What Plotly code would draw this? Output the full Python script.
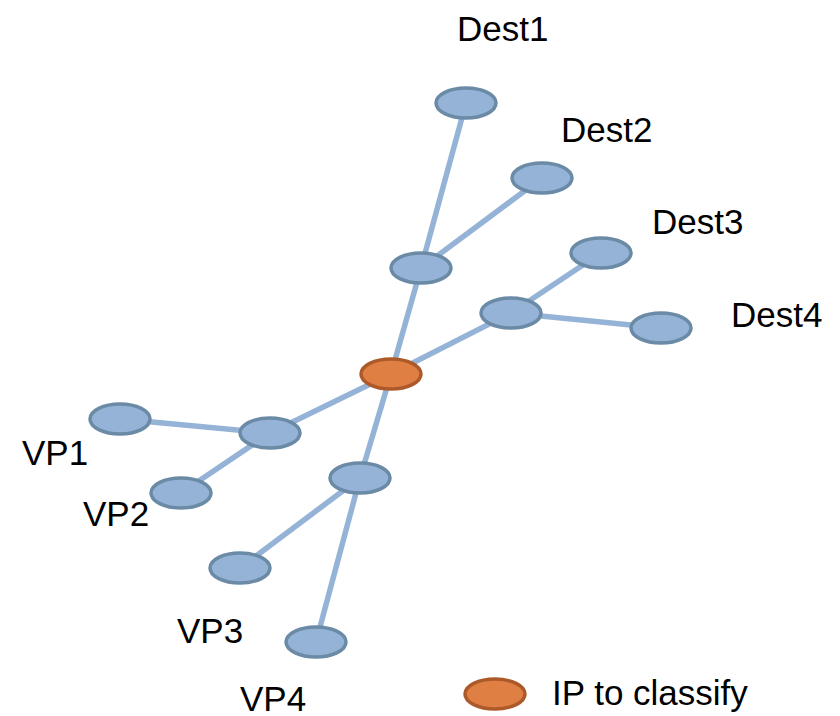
import plotly.graph_objects as go

# Node names and positions (chart units = pixel grid of the canvas)
node_names = ["Dest1", "Dest2", "Dest3", "Dest4", "HubUp", "HubRight", "Center",
              "HubLeft", "VP1", "VP2", "HubLow", "VP3", "VP4"]
node_x = [466, 542, 601, 661, 421, 511, 391, 270, 120, 181, 360, 240, 316]
node_y = [103, 178, 253, 328, 268, 313, 374, 433, 419, 493, 478, 568, 642]
node_kind = ["other"] * 6 + ["target"] + ["other"] * 6

edges_from = ["Dest1", "Dest2", "HubUp", "Dest3", "Dest4", "HubRight", "Center",
              "VP1", "VP2", "Center", "VP3", "VP4"]
edges_to = ["HubUp", "HubUp", "Center", "HubRight", "HubRight", "Center", "HubLeft",
            "HubLeft", "HubLeft", "HubLow", "HubLow", "HubLow"]

label_text = ["Dest1", "Dest2", "Dest3", "Dest4", "VP1", "VP2", "VP3", "VP4"]
label_x = [502, 606, 697, 776, 55, 116, 210, 273]
label_y = [28, 129, 221, 314, 452, 513, 630, 698]

legend_label = "IP to classify"
legend_x = 495
legend_y = 694

BLUE_FILL = "#95B3D7"
BLUE_LINE = "#6A8AA6"
ORANGE_FILL = "#E07F44"
ORANGE_LINE = "#AD5A2A"
EDGE = "#95B3D7"
FONT = "Liberation Sans, Arial, sans-serif"
RX, RY = 30, 15

pos = {n: (x, y) for n, x, y in zip(node_names, node_x, node_y)}

fig = go.Figure()
ex, ey = [], []
for a, b in zip(edges_from, edges_to):
    ex += [pos[a][0], pos[b][0], None]
    ey += [pos[a][1], pos[b][1], None]
fig.add_trace(go.Scatter(x=ex, y=ey, mode="lines",
                         line=dict(color=EDGE, width=5.5), hoverinfo="skip",
                         showlegend=False))

shapes = []
for n, kind in zip(node_names, node_kind):
    cx, cy = pos[n]
    fill, line = (ORANGE_FILL, ORANGE_LINE) if kind == "target" else (BLUE_FILL, BLUE_LINE)
    shapes.append(dict(type="circle", xref="x", yref="y", layer="above",
                       x0=cx - RX, x1=cx + RX, y0=cy - RY, y1=cy + RY,
                       fillcolor=fill, line=dict(color=line, width=3.5)))
shapes.append(dict(type="circle", xref="x", yref="y", layer="above",
                   x0=legend_x - RX, x1=legend_x + RX,
                   y0=legend_y - RY, y1=legend_y + RY,
                   fillcolor=ORANGE_FILL, line=dict(color=ORANGE_LINE, width=3.5)))

annotations = []
for t, x, y in zip(label_text, label_x, label_y):
    annotations.append(dict(x=x, y=y, xref="x", yref="y", text=t, showarrow=False,
                            xanchor="center", yanchor="middle",
                            font=dict(family=FONT, size=35, color="#000000")))
annotations.append(dict(x=550, y=legend_y - 2, xref="x", yref="y", text=legend_label,
                        showarrow=False, xanchor="left", yanchor="middle",
                        font=dict(family=FONT, size=35, color="#000000")))

fig.update_layout(
    width=840, height=716,
    margin=dict(l=0, r=0, t=0, b=0),
    paper_bgcolor="white", plot_bgcolor="white",
    shapes=shapes, annotations=annotations,
    xaxis=dict(range=[0, 840], visible=False, fixedrange=True),
    yaxis=dict(range=[716, 0], visible=False, fixedrange=True),
    showlegend=False,
)

fig.write_html("out.html", config={"displayModeBar": False})

# remove the browser's default page margin so the figure sits at the window origin
with open("out.html", "r", encoding="utf-8") as f:
    html = f.read()
html = html.replace("<head>", "<head><style>html,body{margin:0;padding:0;overflow:hidden;}</style>", 1)
with open("out.html", "w", encoding="utf-8") as f:
    f.write(html)
